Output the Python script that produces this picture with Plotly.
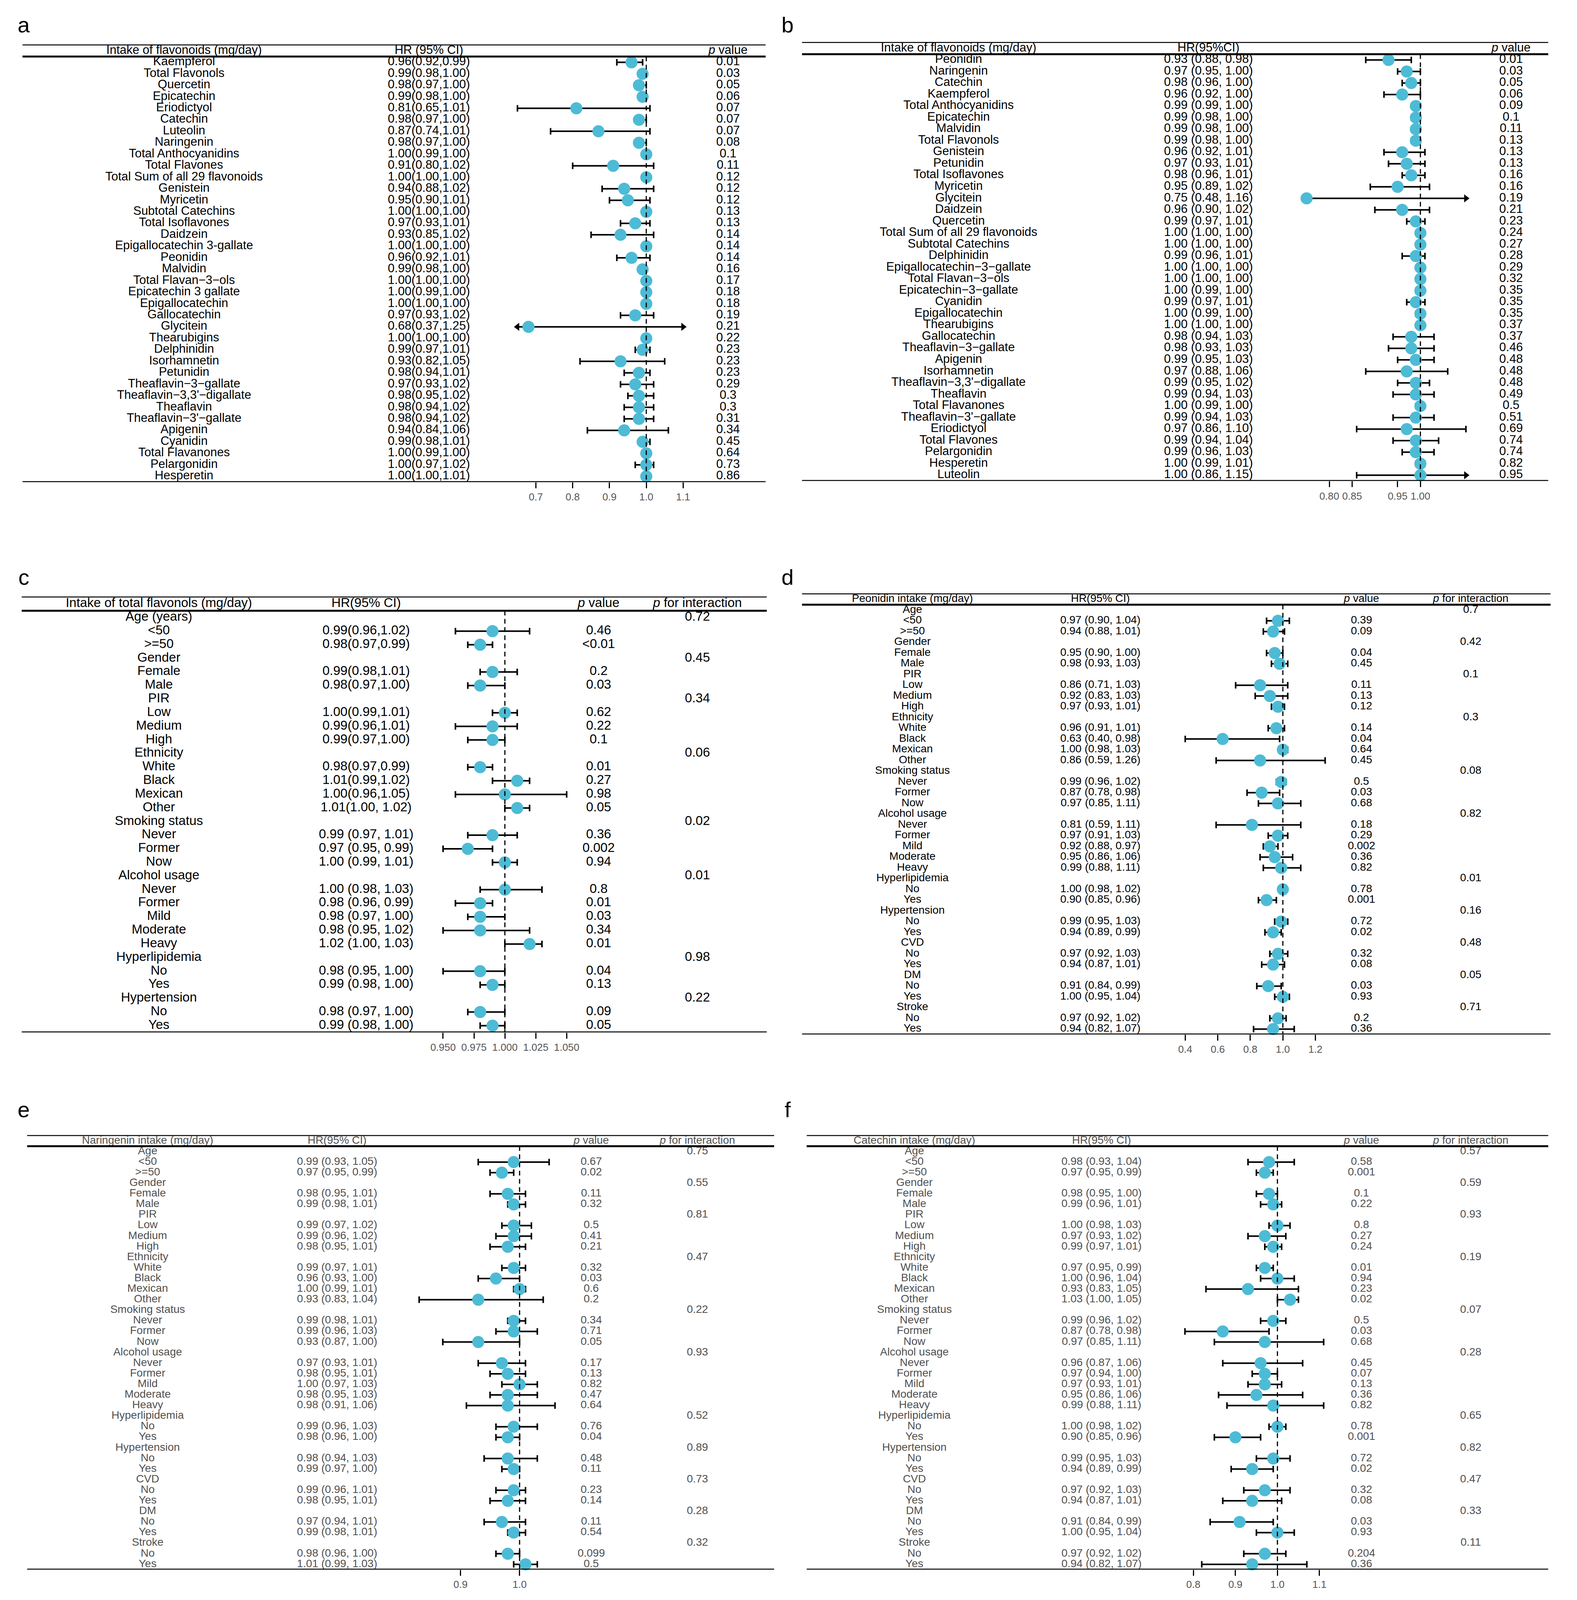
import plotly.graph_objects as go

# reference frame (pixels) used to place everything; the figure itself fills the window
W, H = 4036, 4628
CYAN = '#4DBBD5'
FONT = 'Liberation Sans, Arial, sans-serif'

# ========== a: all flavonoids ==========
a_labels = ["Kaempferol", "Total Flavonols", "Quercetin", "Epicatechin", "Eriodictyol", "Catechin",
            "Luteolin", "Naringenin", "Total Anthocyanidins", "Total Flavones",
            "Total Sum of all 29 flavonoids", "Genistein", "Myricetin", "Subtotal Catechins",
            "Total Isoflavones", "Daidzein", "Epigallocatechin 3-gallate", "Peonidin", "Malvidin",
            "Total Flavan−3−ols", "Epicatechin 3 gallate", "Epigallocatechin", "Gallocatechin",
            "Glycitein", "Thearubigins", "Delphinidin", "Isorhamnetin", "Petunidin",
            "Theaflavin−3−gallate", "Theaflavin−3,3'−digallate", "Theaflavin", "Theaflavin−3'−gallate",
            "Apigenin", "Cyanidin", "Total Flavanones", "Pelargonidin", "Hesperetin"]
a_hr = [0.96, 0.99, 0.98, 0.99, 0.81, 0.98, 0.87, 0.98, 1.00, 0.91, 1.00, 0.94, 0.95, 1.00, 0.97,
        0.93, 1.00, 0.96, 0.99, 1.00, 1.00, 1.00, 0.97, 0.68, 1.00, 0.99, 0.93, 0.98, 0.97, 0.98,
        0.98, 0.98, 0.94, 0.99, 1.00, 1.00, 1.00]
a_lo = [0.92, 0.98, 0.97, 0.98, 0.65, 0.97, 0.74, 0.97, 0.99, 0.80, 1.00, 0.88, 0.90, 1.00, 0.93,
        0.85, 1.00, 0.92, 0.98, 1.00, 0.99, 1.00, 0.93, 0.37, 1.00, 0.97, 0.82, 0.94, 0.93, 0.95,
        0.94, 0.94, 0.84, 0.98, 0.99, 0.97, 1.00]
a_hi = [0.99, 1.00, 1.00, 1.00, 1.01, 1.00, 1.01, 1.00, 1.00, 1.02, 1.00, 1.02, 1.01, 1.00, 1.01,
        1.02, 1.00, 1.01, 1.00, 1.00, 1.00, 1.00, 1.02, 1.25, 1.00, 1.01, 1.05, 1.01, 1.02, 1.02,
        1.02, 1.02, 1.06, 1.01, 1.00, 1.02, 1.01]
a_p = ["0.01", "0.03", "0.05", "0.06", "0.07", "0.07", "0.07", "0.08", "0.1", "0.11", "0.12", "0.12",
       "0.12", "0.13", "0.13", "0.14", "0.14", "0.14", "0.16", "0.17", "0.18", "0.18", "0.19", "0.21",
       "0.22", "0.23", "0.23", "0.23", "0.29", "0.3", "0.3", "0.31", "0.34", "0.45", "0.64", "0.73", "0.86"]

# ========== b: all flavonoids (adjusted) ==========
b_labels = ["Peonidin", "Naringenin", "Catechin", "Kaempferol", "Total Anthocyanidins", "Epicatechin",
            "Malvidin", "Total Flavonols", "Genistein", "Petunidin", "Total Isoflavones", "Myricetin",
            "Glycitein", "Daidzein", "Quercetin", "Total Sum of all 29 flavonoids", "Subtotal Catechins",
            "Delphinidin", "Epigallocatechin−3−gallate", "Total Flavan−3−ols", "Epicatechin−3−gallate",
            "Cyanidin", "Epigallocatechin", "Thearubigins", "Gallocatechin", "Theaflavin−3−gallate",
            "Apigenin", "Isorhamnetin", "Theaflavin−3,3'−digallate", "Theaflavin", "Total Flavanones",
            "Theaflavin−3'−gallate", "Eriodictyol", "Total Flavones", "Pelargonidin", "Hesperetin", "Luteolin"]
b_hr = [0.93, 0.97, 0.98, 0.96, 0.99, 0.99, 0.99, 0.99, 0.96, 0.97, 0.98, 0.95, 0.75, 0.96, 0.99,
        1.00, 1.00, 0.99, 1.00, 1.00, 1.00, 0.99, 1.00, 1.00, 0.98, 0.98, 0.99, 0.97, 0.99, 0.99,
        1.00, 0.99, 0.97, 0.99, 0.99, 1.00, 1.00]
b_lo = [0.88, 0.95, 0.96, 0.92, 0.99, 0.98, 0.98, 0.98, 0.92, 0.93, 0.96, 0.89, 0.48, 0.90, 0.97,
        1.00, 1.00, 0.96, 1.00, 1.00, 0.99, 0.97, 0.99, 1.00, 0.94, 0.93, 0.95, 0.88, 0.95, 0.94,
        0.99, 0.94, 0.86, 0.94, 0.96, 0.99, 0.86]
b_hi = [0.98, 1.00, 1.00, 1.00, 1.00, 1.00, 1.00, 1.00, 1.01, 1.01, 1.01, 1.02, 1.16, 1.02, 1.01,
        1.00, 1.00, 1.01, 1.00, 1.00, 1.00, 1.01, 1.00, 1.00, 1.03, 1.03, 1.03, 1.06, 1.02, 1.03,
        1.00, 1.03, 1.10, 1.04, 1.03, 1.01, 1.15]
b_p = ["0.01", "0.03", "0.05", "0.06", "0.09", "0.1", "0.11", "0.13", "0.13", "0.13", "0.16", "0.16",
       "0.19", "0.21", "0.23", "0.24", "0.27", "0.28", "0.29", "0.32", "0.35", "0.35", "0.35", "0.37",
       "0.37", "0.46", "0.48", "0.48", "0.48", "0.49", "0.5", "0.51", "0.69", "0.74", "0.74", "0.82", "0.95"]

# ========== subgroup rows (c-f) ==========
sub_labels = ["Age", "<50", ">=50", "Gender", "Female", "Male", "PIR", "Low", "Medium", "High",
              "Ethnicity", "White", "Black", "Mexican", "Other", "Smoking status", "Never", "Former", "Now",
              "Alcohol usage", "Never", "Former", "Mild", "Moderate", "Heavy", "Hyperlipidemia", "No", "Yes",
              "Hypertension", "No", "Yes", "CVD", "No", "Yes", "DM", "No", "Yes", "Stroke", "No", "Yes"]
c_labels = ["Age (years)"] + sub_labels[1:31]

# c: total flavonols
c_hr = [None, 0.99, 0.98, None, 0.99, 0.98, None, 1.00, 0.99, 0.99, None, 0.98, 1.01, 1.00, 1.01,
        None, 0.99, 0.97, 1.00, None, 1.00, 0.98, 0.98, 0.98, 1.02, None, 0.98, 0.99, None, 0.98, 0.99]
c_lo = [None, 0.96, 0.97, None, 0.98, 0.97, None, 0.99, 0.96, 0.97, None, 0.97, 0.99, 0.96, 1.00,
        None, 0.97, 0.95, 0.99, None, 0.98, 0.96, 0.97, 0.95, 1.00, None, 0.95, 0.98, None, 0.97, 0.98]
c_hi = [None, 1.02, 0.99, None, 1.01, 1.00, None, 1.01, 1.01, 1.00, None, 0.99, 1.02, 1.05, 1.02,
        None, 1.01, 0.99, 1.01, None, 1.03, 0.99, 1.00, 1.02, 1.03, None, 1.00, 1.00, None, 1.00, 1.00]
c_hr_text = ["", "0.99(0.96,1.02)", "0.98(0.97,0.99)", "", "0.99(0.98,1.01)", "0.98(0.97,1.00)", "",
             "1.00(0.99,1.01)", "0.99(0.96,1.01)", "0.99(0.97,1.00)", "", "0.98(0.97,0.99)",
             "1.01(0.99,1.02)", "1.00(0.96,1.05)", "1.01(1.00, 1.02)", "", "0.99 (0.97, 1.01)",
             "0.97 (0.95, 0.99)", "1.00 (0.99, 1.01)", "", "1.00 (0.98, 1.03)", "0.98 (0.96, 0.99)",
             "0.98 (0.97, 1.00)", "0.98 (0.95, 1.02)", "1.02 (1.00, 1.03)", "", "0.98 (0.95, 1.00)",
             "0.99 (0.98, 1.00)", "", "0.98 (0.97, 1.00)", "0.99 (0.98, 1.00)"]
c_p = ["", "0.46", "<0.01", "", "0.2", "0.03", "", "0.62", "0.22", "0.1", "", "0.01", "0.27", "0.98",
       "0.05", "", "0.36", "0.002", "0.94", "", "0.8", "0.01", "0.03", "0.34", "0.01", "", "0.04", "0.13",
       "", "0.09", "0.05"]
c_pint = ["0.72", "0.45", "0.34", "0.06", "0.02", "0.01", "0.98", "0.22"]

# d: peonidin
d_hr = [None, 0.97, 0.94, None, 0.95, 0.98, None, 0.86, 0.92, 0.97, None, 0.96, 0.63, 1.00, 0.86,
        None, 0.99, 0.87, 0.97, None, 0.81, 0.97, 0.92, 0.95, 0.99, None, 1.00, 0.90, None, 0.99, 0.94,
        None, 0.97, 0.94, None, 0.91, 1.00, None, 0.97, 0.94]
d_lo = [None, 0.90, 0.88, None, 0.90, 0.93, None, 0.71, 0.83, 0.93, None, 0.91, 0.40, 0.98, 0.59,
        None, 0.96, 0.78, 0.85, None, 0.59, 0.91, 0.88, 0.86, 0.88, None, 0.98, 0.85, None, 0.95, 0.89,
        None, 0.92, 0.87, None, 0.84, 0.95, None, 0.92, 0.82]
d_hi = [None, 1.04, 1.01, None, 1.00, 1.03, None, 1.03, 1.03, 1.01, None, 1.01, 0.98, 1.03, 1.26,
        None, 1.02, 0.98, 1.11, None, 1.11, 1.03, 0.97, 1.06, 1.11, None, 1.02, 0.96, None, 1.03, 0.99,
        None, 1.03, 1.01, None, 0.99, 1.04, None, 1.02, 1.07]
d_p = ["", "0.39", "0.09", "", "0.04", "0.45", "", "0.11", "0.13", "0.12", "", "0.14", "0.04", "0.64",
       "0.45", "", "0.5", "0.03", "0.68", "", "0.18", "0.29", "0.002", "0.36", "0.82", "", "0.78", "0.001",
       "", "0.72", "0.02", "", "0.32", "0.08", "", "0.03", "0.93", "", "0.2", "0.36"]
d_pint = ["0.7", "0.42", "0.1", "0.3", "0.08", "0.82", "0.01", "0.16", "0.48", "0.05", "0.71"]

# e: naringenin
e_hr = [None, 0.99, 0.97, None, 0.98, 0.99, None, 0.99, 0.99, 0.98, None, 0.99, 0.96, 1.00, 0.93,
        None, 0.99, 0.99, 0.93, None, 0.97, 0.98, 1.00, 0.98, 0.98, None, 0.99, 0.98, None, 0.98, 0.99,
        None, 0.99, 0.98, None, 0.97, 0.99, None, 0.98, 1.01]
e_lo = [None, 0.93, 0.95, None, 0.95, 0.98, None, 0.97, 0.96, 0.95, None, 0.97, 0.93, 0.99, 0.83,
        None, 0.98, 0.96, 0.87, None, 0.93, 0.95, 0.97, 0.95, 0.91, None, 0.96, 0.96, None, 0.94, 0.97,
        None, 0.96, 0.95, None, 0.94, 0.98, None, 0.96, 0.99]
e_hi = [None, 1.05, 0.99, None, 1.01, 1.01, None, 1.02, 1.02, 1.01, None, 1.01, 1.00, 1.01, 1.04,
        None, 1.01, 1.03, 1.00, None, 1.01, 1.01, 1.03, 1.03, 1.06, None, 1.03, 1.00, None, 1.03, 1.00,
        None, 1.01, 1.01, None, 1.01, 1.01, None, 1.00, 1.03]
e_p = ["", "0.67", "0.02", "", "0.11", "0.32", "", "0.5", "0.41", "0.21", "", "0.32", "0.03", "0.6",
       "0.2", "", "0.34", "0.71", "0.05", "", "0.17", "0.13", "0.82", "0.47", "0.64", "", "0.76", "0.04",
       "", "0.48", "0.11", "", "0.23", "0.14", "", "0.11", "0.54", "", "0.099", "0.5"]
e_pint = ["0.75", "0.55", "0.81", "0.47", "0.22", "0.93", "0.52", "0.89", "0.73", "0.28", "0.32"]

# f: catechin
f_hr = [None, 0.98, 0.97, None, 0.98, 0.99, None, 1.00, 0.97, 0.99, None, 0.97, 1.00, 0.93, 1.03,
        None, 0.99, 0.87, 0.97, None, 0.96, 0.97, 0.97, 0.95, 0.99, None, 1.00, 0.90, None, 0.99, 0.94,
        None, 0.97, 0.94, None, 0.91, 1.00, None, 0.97, 0.94]
f_lo = [None, 0.93, 0.95, None, 0.95, 0.96, None, 0.98, 0.93, 0.97, None, 0.95, 0.96, 0.83, 1.00,
        None, 0.96, 0.78, 0.85, None, 0.87, 0.94, 0.93, 0.86, 0.88, None, 0.98, 0.85, None, 0.95, 0.89,
        None, 0.92, 0.87, None, 0.84, 0.95, None, 0.92, 0.82]
f_hi = [None, 1.04, 0.99, None, 1.00, 1.01, None, 1.03, 1.02, 1.01, None, 0.99, 1.04, 1.05, 1.05,
        None, 1.02, 0.98, 1.11, None, 1.06, 1.00, 1.01, 1.06, 1.11, None, 1.02, 0.96, None, 1.03, 0.99,
        None, 1.03, 1.01, None, 0.99, 1.04, None, 1.02, 1.07]
f_p = ["", "0.58", "0.001", "", "0.1", "0.22", "", "0.8", "0.27", "0.24", "", "0.01", "0.94", "0.23",
       "0.02", "", "0.5", "0.03", "0.68", "", "0.45", "0.07", "0.13", "0.36", "0.82", "", "0.78", "0.001",
       "", "0.72", "0.02", "", "0.32", "0.08", "", "0.03", "0.93", "", "0.204", "0.36"]
f_pint = ["0.57", "0.59", "0.93", "0.19", "0.07", "0.28", "0.65", "0.82", "0.47", "0.33", "0.11"]


def hr_fmt(hr, lo, hi, sep):
    out = []
    for v, l, h in zip(hr, lo, hi):
        if v is None:
            out.append('')
        elif sep:
            out.append(f'{v:.2f} ({l:.2f}, {h:.2f})')
        else:
            out.append(f'{v:.2f}({l:.2f},{h:.2f})')
    return out


def spread_pint(hr, pint):
    # p for interaction sits on the group header rows
    it = iter(pint)
    return [next(it) if v is None else '' for v in hr]


P_HEAD = '<i>p</i> value'
PI_HEAD = '<i>p</i> for interaction'
GRAY = '#505050'

PANELS = [
    dict(letter='a', xy=(53, 63), labels=a_labels, hr=a_hr, lo=a_lo, hi=a_hi,
         hr_text=hr_fmt(a_hr, a_lo, a_hi, False), p=a_p, pint=None,
         head=['Intake of flavonoids (mg/day)', 'HR (95% CI)', P_HEAD],
         top=120, step=33.4, left=50, right=1968, ref=1660, k=950, rng=(0.65, 1.10),
         cols=[467, 1099, 1871], tickvals=[0.7, 0.8, 0.9, 1.0, 1.1],
         ticktext=['0.7', '0.8', '0.9', '1.0', '1.1'], color='black', arrow_lo=True, fs=31),
    dict(letter='b', xy=(2025, 63), labels=b_labels, hr=b_hr, lo=b_lo, hi=b_hi,
         hr_text=hr_fmt(b_hr, b_lo, b_hi, True), p=b_p, pint=None,
         head=['Intake of flavonoids (mg/day)', 'HR(95%CI)', P_HEAD],
         top=113, step=33.5, left=2062, right=3988, ref=3658, k=1175, rng=(0.75, 1.10),
         cols=[2466, 3111, 3892], tickvals=[0.80, 0.85, 0.95, 1.00],
         ticktext=['0.80', '0.85', '0.95', '1.00'], color='black', arrow_lo=False, fs=31),
    dict(letter='c', xy=(53, 1667), labels=c_labels, hr=c_hr, lo=c_lo, hi=c_hi,
         hr_text=c_hr_text, p=c_p, pint=spread_pint(c_hr, c_pint),
         head=['Intake of total flavonols (mg/day)', 'HR(95% CI)', P_HEAD, PI_HEAD],
         top=1723, step=39.5, left=48, right=1971, ref=1295, k=3190, rng=(0.935, 1.065),
         cols=[402, 937, 1537, 1792], tickvals=[0.95, 0.975, 1.0, 1.025, 1.05],
         ticktext=['0.950', '0.975', '1.000', '1.025', '1.050'], color='black', arrow_lo=True, fs=33),
    dict(letter='d', xy=(2025, 1667), labels=sub_labels, hr=d_hr, lo=d_lo, hi=d_hi,
         hr_text=hr_fmt(d_hr, d_lo, d_hi, True), p=d_p, pint=spread_pint(d_hr, d_pint),
         head=['Peonidin intake (mg/day)', 'HR(95% CI)', P_HEAD, PI_HEAD],
         top=1714, step=31.2, left=2062, right=3994, ref=3303, k=420, rng=(0.35, 1.30),
         cols=[2347, 2832, 3506, 3788], tickvals=[0.4, 0.6, 0.8, 1.0, 1.2],
         ticktext=['0.4', '0.6', '0.8', '1.0', '1.2'], color='black', arrow_lo=True, fs=28),
    dict(letter='e', xy=(53, 3213), labels=sub_labels, hr=e_hr, lo=e_lo, hi=e_hi,
         hr_text=hr_fmt(e_hr, e_lo, e_hi, True), p=e_p, pint=spread_pint(e_hr, e_pint),
         head=['Naringenin intake (mg/day)', 'HR(95% CI)', P_HEAD, PI_HEAD],
         top=3287, step=30.74, left=62, right=1990, ref=1333, k=1525, rng=(0.80, 1.10),
         cols=[373, 862, 1518, 1792], tickvals=[0.9, 1.0],
         ticktext=['0.9', '1.0'], color=GRAY, arrow_lo=True, fs=28),
    dict(letter='f', xy=(2025, 3213), labels=sub_labels, hr=f_hr, lo=f_lo, hi=f_hi,
         hr_text=hr_fmt(f_hr, f_lo, f_hi, True), p=f_p, pint=spread_pint(f_hr, f_pint),
         head=['Catechin intake (mg/day)', 'HR(95% CI)', P_HEAD, PI_HEAD],
         top=3287, step=30.74, left=2074, right=3988, ref=3289, k=1085, rng=(0.75, 1.15),
         cols=[2352, 2835, 3506, 3788], tickvals=[0.8, 0.9, 1.0, 1.1],
         ticktext=['0.8', '0.9', '1.0', '1.1'], color=GRAY, arrow_lo=True, fs=28),
]

fig = go.Figure()
shapes, annotations = [], []
layout_axes = {'xaxis': dict(domain=[0, 1], range=[0, W], visible=False, fixedrange=True)}

for i, P in enumerate(PANELS, start=1):
    n = len(P['labels'])
    ykey = 'yaxis' if i == 1 else f'yaxis{i}'
    yref = 'y' if i == 1 else f'y{i}'
    xref = f'x{i + 1}'
    bottom = P['top'] + (n + 1.05) * P['step']
    layout_axes[ykey] = dict(domain=[1 - bottom / H, 1 - P['top'] / H], range=[n - 0.5, -1.55],
                             visible=False, fixedrange=True)
    r0, r1 = P['rng']
    px0 = P['ref'] + (r0 - 1) * P['k']
    px1 = P['ref'] + (r1 - 1) * P['k']
    layout_axes[f'xaxis{i + 1}'] = dict(
        domain=[px0 / W, px1 / W], range=[r0, r1], anchor=yref, side='bottom',
        showgrid=False, zeroline=False, showline=False, ticks='outside', ticklen=15,
        tickwidth=3, tickcolor='black', tickvals=P['tickvals'], ticktext=P['ticktext'],
        tickfont=dict(family=FONT, size=26, color='#555555'), fixedrange=True)

    rows = list(range(n))
    wx, wy, cx, cy, alx, aly, arx, ary = [], [], [], [], [], [], [], []
    for r, v, lo, hi in zip(rows, P['hr'], P['lo'], P['hi']):
        if v is None:
            continue
        wx += [max(lo, r0), min(hi, r1), None]
        wy += [r, r, None]
        if lo >= r0 - 1e-9:
            cx.append(lo); cy.append(r)
        elif P['arrow_lo']:
            alx.append(r0); aly.append(r)
        if hi <= r1 + 1e-9:
            cx.append(hi); cy.append(r)
        else:
            arx.append(r1); ary.append(r)

    fig.add_trace(go.Scatter(x=wx, y=wy, mode='lines', line=dict(color='black', width=4),
                             xaxis=xref, yaxis=yref, hoverinfo='skip'))
    fig.add_trace(go.Scatter(x=cx, y=cy, mode='markers', cliponaxis=False,
                             marker=dict(symbol='line-ns', size=12, line=dict(color='black', width=4)),
                             xaxis=xref, yaxis=yref, hoverinfo='skip'))
    if alx:
        fig.add_trace(go.Scatter(x=alx, y=aly, mode='markers', cliponaxis=False,
                                 marker=dict(symbol='triangle-left', size=18, color='black'),
                                 xaxis=xref, yaxis=yref, hoverinfo='skip'))
    if arx:
        fig.add_trace(go.Scatter(x=arx, y=ary, mode='markers', cliponaxis=False,
                                 marker=dict(symbol='triangle-right', size=18, color='black'),
                                 xaxis=xref, yaxis=yref, hoverinfo='skip'))
    pts = [(v, r) for r, v in zip(rows, P['hr']) if v is not None]
    fig.add_trace(go.Scatter(x=[v for v, _ in pts], y=[r for _, r in pts], mode='markers',
                             cliponaxis=False, marker=dict(size=31, color=CYAN, line=dict(width=0)),
                             xaxis=xref, yaxis=yref))

    # table text columns
    tfont = dict(family=FONT, size=P['fs'], color=P['color'])
    columns = [P['labels'], P['hr_text'], P['p']]
    if P['pint'] is not None:
        columns.append(P['pint'])
    for col_x, texts in zip(P['cols'], columns):
        fig.add_trace(go.Scatter(x=[col_x] * n, y=rows, mode='text', text=texts,
                                 textposition='middle center', cliponaxis=False, textfont=tfont,
                                 xaxis='x', yaxis=yref, hoverinfo='skip'))
    fig.add_trace(go.Scatter(x=P['cols'][:len(P['head'])], y=[-1.0] * len(P['head']), mode='text',
                             text=P['head'], textposition='middle center', cliponaxis=False,
                             textfont=tfont, xaxis='x', yaxis=yref, hoverinfo='skip'))

    # table rules and reference line
    for yy in (-1.55, -0.5, n - 0.5):
        shapes.append(dict(type='line', xref='paper', x0=P['left'] / W, x1=P['right'] / W,
                           yref=yref, y0=yy, y1=yy, line=dict(color='black', width=5)))
    shapes.append(dict(type='line', xref=xref, x0=1, x1=1, yref=yref, y0=-0.5, y1=n - 0.5,
                       line=dict(color='black', width=3, dash='12px,9px')))

    annotations.append(dict(text=P['letter'], xref='paper', yref='paper',
                            x=P['xy'][0] / W, y=1 - P['xy'][1] / H, xanchor='center', yanchor='middle',
                            showarrow=False, font=dict(family=FONT, size=56, color='black')))

# size follows the browser window so the whole figure stays in view
fig.update_layout(
    autosize=True, margin=dict(l=0, r=0, t=0, b=0),
    paper_bgcolor='white', plot_bgcolor='rgba(0,0,0,0)',
    showlegend=False, shapes=shapes, annotations=annotations,
    **layout_axes,
)

fig.write_html("out.html")
